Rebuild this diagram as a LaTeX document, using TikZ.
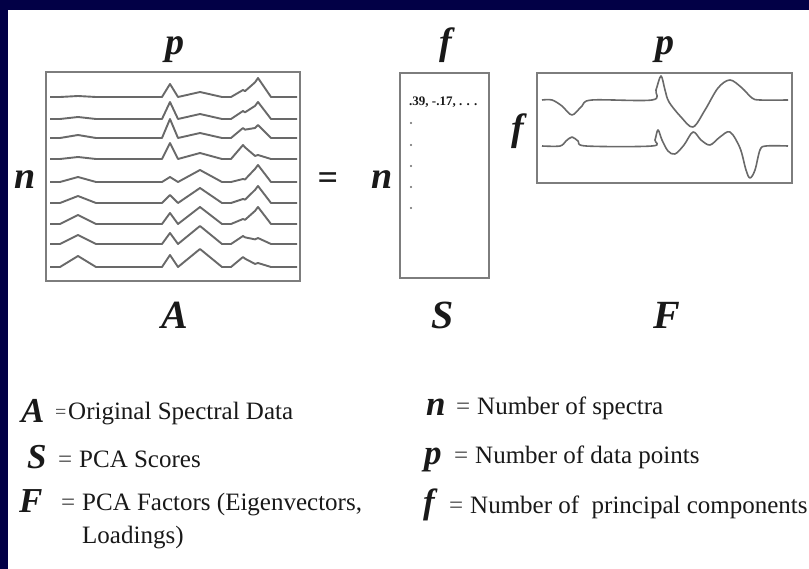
\documentclass[tikz,border=0pt]{standalone}
\usepackage{fontspec}
\setmainfont{Liberation Serif}
\definecolor{navy}{RGB}{2,0,70}
\definecolor{boxgray}{RGB}{125,125,125}
\definecolor{specgray}{RGB}{105,105,105}
\definecolor{txt}{RGB}{25,25,25}
\begin{document}
\begin{tikzpicture}[x=1pt,y=-1pt,
  declare function={tri(\t,\c,\w)=max(0,1-abs(\t-\c)/\w);},
  matbox/.style={draw=boxgray, line width=1.6pt, inner sep=0pt},
  spec/.style={draw=specgray, line width=1.9pt, line join=round},
  lbl/.style={font=\fontsize{38}{40}\selectfont\bfseries\itshape, inner sep=0pt, text=txt},
  big/.style={font=\fontsize{40}{42}\selectfont\bfseries\itshape, inner sep=0pt, text=txt},
  sym/.style={font=\fontsize{35}{37}\selectfont\bfseries\itshape, inner sep=0pt, anchor=base west, text=txt},
  desc/.style={font=\fontsize{25}{27}\selectfont, inner sep=0pt, anchor=base west, text=txt},
  eqs/.style={font=\fontsize{25}{27}\selectfont, inner sep=0pt, anchor=base west, text=txt!80}]
\useasboundingbox (0,0) rectangle (809,569);
\fill[navy] (0,0) rectangle (809,569);
\fill[white] (8,10) rectangle (809,569);

% matrices
\node[matbox, minimum width=254pt, minimum height=209pt] (boxA) at (173,176.5) {};
\node[matbox, minimum width=89pt, minimum height=205pt] (boxS) at (444.5,175.5) {};
\node[matbox, minimum width=255pt, minimum height=110pt] (boxF) at (664.5,128) {};

% spectra in A
\foreach \yb/\ka/\kb/\kc/\kd/\ke in {97/1/13/5/7/19, 119/2/17/5/8/17, 138/3/19/5/10/13, 159/2/16/6/14/4, 182/5/5/12/3/17, 203/7/8/15/4/17, 224/9/11/17/5/17, 244/9/11/18/8/6, 267/11/12/18/10/4}
  \draw[spec] plot[domain=50:297, samples=248]
    (\x, {\yb-(\ka*tri(\x,78,18)+\kb*tri(\x,170,8)+\kc*tri(\x,200,22)+\kd*tri(\x,243,12)+\ke*tri(\x,258,13))});

% loadings in F
\draw[spec, line width=1.6pt] plot[smooth, tension=0.55] coordinates {(542,100) (552,100) (562,106) (572,115) (582,106) (592,100) (652,100) (656,90) (661,76) (665,90) (669,102) (681,117) (693,127) (705,110) (718,88) (730,80) (742,88) (752,98) (760,100) (788,100)};
\draw[spec, line width=1.6pt] plot[smooth, tension=0.55] coordinates {(542,146) (560,146) (566,141) (572,137) (578,141) (586,146) (652,146) (655,140) (658,130) (662,140) (668,151) (675,154) (684,145) (693,132) (701,140) (710,145) (720,137) (730,132) (740,148) (746,170) (750,178) (755,170) (760,150) (766,146) (788,146)};

% scores
\node[font=\fontsize{13}{14}\selectfont\bfseries, inner sep=0pt, anchor=west, text=txt] (sc) at (409,102) {.39, -.17, . . .};
\foreach \yy in {123,145,166,187,208}
  \fill[specgray] (411,\yy) circle (1.1pt);

% dimension labels
\node[lbl] (pA) at (175,50) {p};
\node[lbl] (nA) at (25,180) {n};
\node[font=\fontsize{36}{38}\selectfont\bfseries, inner sep=0pt, text=txt] (eq) at (328,181) {=};
\node[lbl] (nS) at (382,180) {n};
\node[lbl] (fS) at (446,45) {f};
\node[lbl] (pF) at (665,50) {p};
\node[lbl] (fF) at (518,131) {f};

\node[big] (lA) at (175,315) {A};
\node[big] (lS) at (443,315) {S};
\node[big] (lF) at (667,315) {F};

% legend left
\node[sym] (gA) at (21,422) {A};
\node[eqs, font=\fontsize{20}{22}\selectfont] (eA) at (55,418) {=};
\node[desc] (tA) at (68,419) {Original Spectral Data};
\node[sym] (gS) at (27,468) {S};
\node[eqs] (eS) at (58,467) {=};
\node[desc] (tS) at (79,467) {PCA Scores};
\node[sym] (gF) at (19,512) {F};
\node[eqs] (eF) at (61,510) {=};
\node[desc] (tF) at (82,510) {PCA Factors (Eigenvectors,};
\node[desc] (tF2) at (82,543) {Loadings)};

% legend right
\node[sym] (gn) at (426,415) {n};
\node[eqs] (en) at (456,414) {=};
\node[desc] (tn) at (477,414) {Number of spectra};
\node[sym] (gp) at (424,464) {p};
\node[eqs] (ep) at (454,463) {=};
\node[desc] (tp) at (475,463) {Number of data points};
\node[sym] (gf) at (423,513) {f};
\node[eqs] (ef) at (449,513) {=};
\node[desc] (tf) at (470,513) {Number of\ \ principal components};
\end{tikzpicture}
\end{document}
